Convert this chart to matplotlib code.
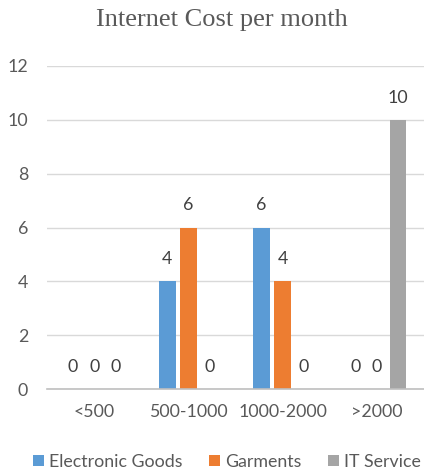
import matplotlib
matplotlib.use("Agg")
import matplotlib.pyplot as plt
import numpy as np

categories = ["<500", "500-1000", "1000-2000", ">2000"]
series_names = ["Electronic Goods", "Garments", "IT Service"]
electronic_goods = [0, 4, 6, 0]
garments = [0, 6, 4, 0]
it_service = [0, 0, 0, 10]
colors = ["#5B9BD5", "#ED7D31", "#A5A5A5"]
y_ticks = [0, 2, 4, 6, 8, 10, 12]

text_color = "#595959"
plt.rcParams["font.family"] = ["Lato", "DejaVu Sans"]
fs = 12.8

W, H = 424, 475
fig = plt.figure(figsize=(W / 100, H / 100), dpi=100)
ax = fig.add_axes([47 / W, 1 - 389 / H, 377 / W, (389 - 66) / H])

x = np.arange(len(categories))
offset = 0.223
width = 0.176
all_series = [electronic_goods, garments, it_service]
for i, (vals, name, c) in enumerate(zip(all_series, series_names, colors)):
    pos = x + (i - 1) * offset
    ax.bar(pos, vals, width=width, color=c, label=name, zorder=3)
    for p, v in zip(pos, vals):
        ax.annotate(str(v), (p, v), xytext=(0, 16), textcoords="offset points",
                    ha="center", va="center", fontsize=fs, color="#404040")

ax.set_xlim(-0.5, len(categories) - 0.5)
ax.set_ylim(0, 12)
ax.set_yticks(y_ticks)
ax.set_xticks(x)
ax.set_xticklabels(categories)
ax.tick_params(axis="both", length=0, labelsize=fs, labelcolor=text_color)
ax.tick_params(axis="x", pad=11)
ax.tick_params(axis="y", pad=13.5)
for lab in ax.get_yticklabels():
    lab.set_horizontalalignment("right")
ax.yaxis.grid(True, color="#D9D9D9", linewidth=1, zorder=0)
for s in ["top", "right", "left"]:
    ax.spines[s].set_visible(False)
ax.spines["bottom"].set_color("#BFBFBF")
ax.spines["bottom"].set_linewidth(1.2)
ax.spines["bottom"].set_zorder(4)

fig.text(222 / W, 1 - 20 / H, "Internet Cost per month", ha="center", va="center",
         fontsize=19, color=text_color, family="Liberation Serif")

leg = fig.legend(loc="center", bbox_to_anchor=(227 / W, 1 - 462 / H), ncol=3,
                 frameon=False, fontsize=fs, handlelength=0.6, handleheight=0.6,
                 handletextpad=0.3, columnspacing=1.5, labelcolor=text_color)

fig.savefig("out.png", dpi=100)
